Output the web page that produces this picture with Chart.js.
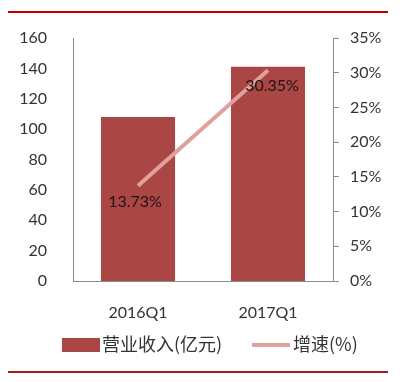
<!DOCTYPE html>
<html><head><meta charset="utf-8">
<script src="https://cdn.jsdelivr.net/npm/chart.js@4"></script>
<style>html,body{margin:0;padding:0;background:#fff}#wrap{width:408px;height:382px}</style>
</head><body><div id="wrap"><canvas id="c" width="408" height="382"></canvas></div>
<script>
const categories = ['2016Q1', '2017Q1'];
const revenue = [108, 141];
const growth = [13.73, 30.35];
const growthLabels = ['13.73%', '30.35%'];
const seriesNames = ['营业收入(亿元)', '增速(%)'];

const FONT = 'Lato, "Noto Sans CJK SC", sans-serif';
const BAR = '#AA4643';
const LINE = '#DFA09E';
const AXIS = '#8C8C8C';

const deco = {
  id: 'deco',
  afterDraw(chart) {
    const ctx = chart.ctx;
    ctx.save();
    ctx.fillStyle = '#C00000';
    ctx.fillRect(8, 11, 380, 2);
    ctx.fillStyle = '#A81818';
    ctx.fillRect(8, 371, 380, 2);
    const meta = chart.getDatasetMeta(0);
    ctx.fillStyle = '#1E1414';
    ctx.font = '16px ' + FONT;
    ctx.textAlign = 'center';
    ctx.textBaseline = 'middle';
    meta.data.forEach((pt, i) => {
      ctx.fillText(growthLabels[i], pt.x + (i === 0 ? -3 : 4), pt.y + 16);
    });
    ctx.fillStyle = BAR;
    ctx.fillRect(62, 338, 38, 14);
    ctx.fillStyle = '#333';
    ctx.font = '18px "Noto Sans CJK SC", ' + FONT;
    ctx.textAlign = 'left';
    ctx.fillText(seriesNames[0], 102, 344);
    ctx.strokeStyle = LINE;
    ctx.lineWidth = 4;
    ctx.beginPath(); ctx.moveTo(252, 345); ctx.lineTo(290, 345); ctx.stroke();
    ctx.fillStyle = '#333';
    ctx.fillText(seriesNames[1], 293, 344);
    ctx.restore();
  }
};

new Chart(document.getElementById('c'), {
  data: {
    labels: categories,
    datasets: [
      { type: 'line', label: seriesNames[1], data: growth, yAxisID: 'y1', borderColor: LINE,
        borderWidth: 4, pointRadius: 0, tension: 0, order: 0 },
      { type: 'bar', label: seriesNames[0], data: revenue, yAxisID: 'y', backgroundColor: BAR,
        barPercentage: 0.57, categoryPercentage: 1, order: 1 }
    ]
  },
  options: {
    responsive: false,
    animation: false,
    devicePixelRatio: 1,
    layout: { padding: { top: 38, bottom: 61, left: 0, right: 0 } },
    plugins: { legend: { display: false }, tooltip: { enabled: false } },
    scales: {
      x: {
        grid: { display: false },
        border: { display: true, color: AXIS, width: 1 },
        ticks: { color: '#333', font: { family: FONT, size: 16 }, padding: 14 },
        afterFit(s) { s.height = 40; }
      },
      y: {
        position: 'left', min: 0, max: 160,
        grid: { display: false },
        border: { display: true, color: AXIS, width: 1 },
        ticks: { stepSize: 20, color: '#333', font: { family: FONT, size: 16 }, padding: 18 },
        afterFit(s) { s.width = 73; }
      },
      y1: {
        position: 'right', min: 0, max: 35,
        grid: { display: true, drawOnChartArea: false, drawTicks: true, tickLength: 6, color: AXIS },
        border: { display: true, color: AXIS, width: 1 },
        ticks: { stepSize: 5, color: '#333', font: { family: FONT, size: 16 }, padding: 11,
          callback: v => v + '%' },
        afterFit(s) { s.width = 75; }
      }
    }
  },
  plugins: [deco]
});
</script></body></html>
